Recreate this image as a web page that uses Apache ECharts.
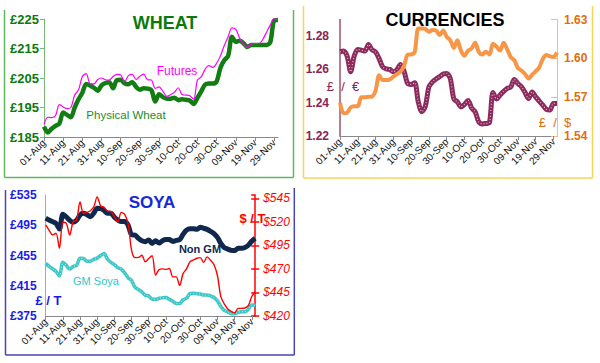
<!DOCTYPE html>
<html>
<head>
<meta charset="utf-8">
<script src="https://cdn.jsdelivr.net/npm/echarts@6/dist/echarts.min.js"></script>
<style>
html,body{margin:0;padding:0;background:#fff;}
#c{width:600px;height:363px;}
</style>
</head>
<body>
<div id="c"></div>
<script>
// ---- Data (sampled every 2 days, 01-Aug .. 01-Dec) ----
const tickLabels = ['01-Aug','11-Aug','21-Aug','31-Aug','10-Sep','20-Sep','30-Sep','10-Oct','20-Oct','30-Oct','09-Nov','19-Nov','29-Nov'];

const wheatPhysical = [188.5,186.5,187.8,188.8,189.5,193.3,192.5,191.7,195,197.8,
  200,203,202.5,201.7,200.7,202.5,203.3,203.6,201.5,204.3,
  204.4,203.2,202.9,203.6,202,201,201.5,201.4,200.9,197,
  199.5,198.5,198,198,198.3,197.5,197.8,197.6,197.4,196.2,
  198.3,200.5,202.8,203.1,203.1,203.8,208.5,211,212.5,219,
  217.3,217.6,216.8,215.5,216.2,216.2,216.2,216.2,216.2,217.2,
  224.5,224.7];
const wheatFutures = [189.3,191.7,191.6,192.2,196,195.2,194.6,195,199.2,201,
  205.5,206.5,203.1,203,204.5,205,204.4,204.3,205.5,206.2,
  206,203.7,205.8,206.2,204.5,205.6,206.3,204.4,204.3,201.5,
  202,200.5,198.8,199.3,200.2,201.7,199.4,199.2,199,197.8,
  204.3,205.4,208,209.2,208.6,210,212.5,216,219,222,
  221.5,218.5,216.5,215.3,216.5,216.7,216.7,218,220.5,223,
  225.2,224.6];

const gbpEur = [1.2706,1.271,1.268,1.2586,1.268,1.272,1.2716,1.271,1.275,1.2718,
  1.2705,1.2665,1.2615,1.2603,1.26,1.2586,1.2598,1.263,1.259,1.2516,
  1.251,1.252,1.2405,1.2346,1.238,1.2495,1.2525,1.2543,1.2556,1.2572,
  1.2576,1.2545,1.2423,1.2405,1.2375,1.239,1.2414,1.2368,1.2345,1.2285,
  1.2272,1.2275,1.228,1.2462,1.2422,1.2446,1.2468,1.2486,1.2494,1.254,
  1.2515,1.2496,1.2462,1.2425,1.2465,1.2435,1.241,1.2385,1.236,1.2356,
  1.2396,1.2396];
const gbpUsd = [1.5657,1.5575,1.558,1.5621,1.563,1.563,1.570,1.570,1.5703,1.5705,
  1.575,1.587,1.5832,1.5832,1.5837,1.5858,1.5878,1.5897,1.594,1.6028,
  1.603,1.605,1.623,1.623,1.6227,1.6205,1.6218,1.6215,1.618,1.6215,
  1.6166,1.614,1.608,1.614,1.606,1.602,1.606,1.6076,1.612,1.605,
  1.603,1.605,1.603,1.6113,1.609,1.606,1.612,1.607,1.601,1.5986,
  1.5925,1.5906,1.5879,1.5845,1.5873,1.59,1.593,1.5995,1.6025,1.6015,
  1.6012,1.6045];

const soyaNonGM = [504.5,502,499.8,497.5,490,509.5,506,501.5,499,501.5,
  508.6,510.8,509,506.4,511,517.4,517.2,514.5,510.8,510.8,
  505.5,502,499.8,499.8,495,482.5,482,477.7,474.5,473.3,
  475.5,471,474.5,471.5,474.5,476,476,473.6,475,476,
  483,488.5,490.5,490.5,489.6,492.3,491,489.5,487,484,
  479,471,465.5,463.5,461.8,461.5,464.5,464.5,465.5,468.5,
  474,477.7];
const soyaGM = [444.6,440.5,437.5,434,428,446,442,437,440.5,442,
  451.3,451,447.5,447.5,450,451.5,455,457.5,450,446,
  443,439,437,432,425.5,422,413,410,407,402.5,
  401.5,397,397,398.4,399,399.3,397,394.5,391.5,391.5,
  396.5,398.4,404.5,405,404.5,404,402.8,402.8,401.5,399.5,
  395,387.5,382.5,380.5,378,378,380,380.7,380.7,384,
  389.5,389.5];
const soyaUsd = [516.7,511,506,507.8,492,519.5,518.5,506,520.2,522,
  541,529.1,530,531.8,536,546.5,537,535.4,531.5,531,
  525.5,520,530,528,518,490,482,482.2,484.5,477.5,
  481,484,463.5,469.2,470,469.5,470.5,461.5,461.5,452.5,
  465,470,477.5,479.5,481.3,482,477,482.8,479.2,474.5,
  463,440.5,432.8,427.5,425,423.2,428.1,428.1,428.5,431,
  440.7,445.8];

// categories: every 2 days from 01-Aug
const months = ['Jan','Feb','Mar','Apr','May','Jun','Jul','Aug','Sep','Oct','Nov','Dec'];
const categories = [];
for (let i = 0; i < wheatPhysical.length; i++) {
  const d = new Date(Date.UTC(2013, 7, 1 + 2 * i));
  categories.push(String(d.getUTCDate()).padStart(2, '0') + '-' + months[d.getUTCMonth()]);
}

const FONT = 'Liberation Sans, Arial, sans-serif';
const chart = echarts.init(document.getElementById('c'), null, {renderer: 'svg'});

function xAxisFor(gi, lineColor) {
  return {
    type: 'category', gridIndex: gi, data: categories, boundaryGap: false,
    axisLine: {show: true, lineStyle: {color: lineColor, width: 1}},
    axisTick: {show: true, interval: 4, length: 4, lineStyle: {color: lineColor}},
    axisLabel: {interval: 4, rotate: 45, margin: 4, fontSize: 10, color: '#111', fontFamily: FONT,
      formatter: v => (tickLabels.indexOf(v) >= 0 ? v : '')},
    splitLine: {show: false}
  };
}

const option = {
  animation: false,
  backgroundColor: '#fff',
  grid: [
    {left: 44, top: 19, width: 234, height: 118},
    {left: 340, top: 19.5, width: 217, height: 116.5},
    {left: 45.7, top: 195, width: 209.5, height: 121}
  ],
  xAxis: [
    xAxisFor(0, '#8a8a8a'),
    xAxisFor(1, '#8a8a8a'),
    xAxisFor(2, '#8a8a8a')
  ],
  yAxis: [
    // 0 wheat
    {type: 'value', gridIndex: 0, min: 185, max: 225, interval: 10,
      axisLine: {show: true, lineStyle: {color: '#7ab87a', width: 1}},
      axisTick: {show: true, length: 4, lineStyle: {color: '#7ab87a'}},
      axisLabel: {formatter: v => '£' + v, color: '#0b7a0b', fontWeight: 'bold', fontSize: 13, margin: 5, fontFamily: FONT},
      splitLine: {show: false}},
    // 1 currencies left (scaled: (v-1.22)*100)
    {type: 'value', gridIndex: 1, min: 0, max: 7, interval: 2, position: 'left',
      axisLine: {show: true, lineStyle: {color: '#a0526e', width: 1.5}},
      axisTick: {show: false},
      axisLabel: {showMaxLabel: false, formatter: v => (1.22 + v / 100).toFixed(2), color: '#8b2252', fontWeight: 'bold', fontSize: 12, margin: 11, fontFamily: FONT},
      splitLine: {show: false}},
    // 2 currencies right (scaled: (v-1.54)*100)
    {type: 'value', gridIndex: 1, min: 0, max: 9, interval: 3, position: 'right',
      axisLine: {show: true, lineStyle: {color: '#f8b88a', width: 1}},
      axisTick: {show: true, inside: true, length: 6, lineStyle: {color: '#f8b88a'}},
      axisLabel: {formatter: v => (1.54 + v / 100).toFixed(2), color: '#e46c0a', fontWeight: 'bold', fontSize: 12, margin: 7, fontFamily: FONT},
      splitLine: {show: false}},
    // 3 soya left (v-375)
    {type: 'value', gridIndex: 2, min: 0, max: 160, interval: 40, position: 'left',
      axisLine: {show: true, lineStyle: {color: '#a0a0ee', width: 1}},
      axisTick: {show: false},
      axisLabel: {formatter: v => '£' + (v + 375), color: '#1a1aee', fontWeight: 'bold', fontSize: 12, margin: 9, fontFamily: FONT},
      splitLine: {show: false}},
    // 4 soya right (v-420)
    {type: 'value', gridIndex: 2, min: 0, max: 128.5, interval: 25, position: 'right',
      axisLine: {show: true, lineStyle: {color: '#ff0000', width: 1.5}},
      axisTick: {show: true, length: 4, lineStyle: {color: '#ff0000', width: 1.5}},
      axisLabel: {showMaxLabel: false, formatter: v => '$' + (v + 420), color: '#ff0000', fontStyle: 'italic', fontSize: 12, margin: 8, fontFamily: FONT},
      splitLine: {show: false}},
    // 5 soya right inner ticks
    {type: 'value', gridIndex: 2, min: 0, max: 128.5, interval: 25, position: 'right',
      axisLine: {show: false},
      axisTick: {show: true, inside: true, length: 4, lineStyle: {color: '#ff0000', width: 1.5}},
      axisLabel: {show: false},
      splitLine: {show: false}}
  ],
  series: [
    {type: 'line', xAxisIndex: 0, yAxisIndex: 0, data: wheatPhysical, symbol: 'none', smooth: 0.3,
      lineStyle: {color: '#127d12', width: 4.5}},
    {type: 'line', xAxisIndex: 0, yAxisIndex: 0, data: wheatFutures, symbol: 'none', smooth: 0.3,
      lineStyle: {color: '#ff00ff', width: 1.2}},

    {type: 'line', xAxisIndex: 1, yAxisIndex: 1, data: gbpEur.map(v => (v - 1.22) * 100), symbol: 'none', smooth: 0.3,
      lineStyle: {color: '#8b2a5c', width: 5}},
    {type: 'line', xAxisIndex: 1, yAxisIndex: 1, data: gbpEur.map(v => (v - 1.22) * 100), symbol: 'none', smooth: 0.3,
      lineStyle: {color: '#e6b3cc', width: 1.2, type: [1, 2]}},
    {type: 'line', xAxisIndex: 1, yAxisIndex: 2, data: gbpUsd.map(v => (v - 1.54) * 100), symbol: 'none', smooth: 0.3,
      lineStyle: {color: '#f79646', width: 4}},

    {type: 'line', xAxisIndex: 2, yAxisIndex: 3, data: soyaNonGM.map(v => v - 375), symbol: 'none', smooth: 0.3,
      lineStyle: {color: '#10284d', width: 5}},
    {type: 'line', xAxisIndex: 2, yAxisIndex: 3, data: soyaGM.map(v => v - 375), symbol: 'none', smooth: 0.3,
      lineStyle: {color: '#3cc6c6', width: 3.5}},
    {type: 'line', xAxisIndex: 2, yAxisIndex: 3, data: soyaGM.map(v => v - 375), symbol: 'none', smooth: 0.3,
      lineStyle: {color: '#b6eeee', width: 1, type: [1, 2]}},
    {type: 'line', xAxisIndex: 2, yAxisIndex: 4, data: soyaUsd.map(v => v - 420), symbol: 'none', smooth: 0.3,
      lineStyle: {color: '#ff0000', width: 1.4}}
  ],
  graphic: [
    // panel borders
    {type: 'line', shape: {x1: 4.5, y1: 10, x2: 4.5, y2: 177.5}, style: {stroke: '#5cb85c', lineWidth: 1.5}},
    {type: 'line', shape: {x1: 4.5, y1: 177.5, x2: 293.5, y2: 177.5}, style: {stroke: '#5cb85c', lineWidth: 1.5}},
    {type: 'line', shape: {x1: 293.5, y1: 10, x2: 293.5, y2: 177.5}, style: {stroke: '#5cb85c', lineWidth: 1.5}},

    {type: 'line', shape: {x1: 303.5, y1: 6, x2: 303.5, y2: 178}, style: {stroke: '#f7d358', lineWidth: 1.5}},
    {type: 'line', shape: {x1: 303.5, y1: 178, x2: 592.5, y2: 178}, style: {stroke: '#f7d358', lineWidth: 1.5}},
    {type: 'line', shape: {x1: 592.5, y1: 6, x2: 592.5, y2: 178}, style: {stroke: '#f7d358', lineWidth: 1.5}},

    {type: 'line', shape: {x1: 5.5, y1: 190, x2: 5.5, y2: 355}, style: {stroke: '#4646b4', lineWidth: 1.5}},
    {type: 'line', shape: {x1: 5.5, y1: 355, x2: 294.3, y2: 355}, style: {stroke: '#4646b4', lineWidth: 1.5}},
    {type: 'line', shape: {x1: 294.3, y1: 188, x2: 294.3, y2: 355}, style: {stroke: '#4646b4', lineWidth: 1.5}},

    // texts
    {type: 'text', style: {text: 'WHEAT', x: 165, y: 22.5, fill: '#0b7a0b', font: 'bold 18px ' + FONT, align: 'center', verticalAlign: 'middle'}},
    {type: 'text', style: {text: 'Futures', x: 177, y: 71, fill: '#ff00ff', font: '12px ' + FONT, align: 'center', verticalAlign: 'middle'}},
    {type: 'text', style: {text: 'Physical Wheat', x: 126, y: 115, fill: '#1e8c1e', font: '11.5px ' + FONT, align: 'center', verticalAlign: 'middle'}},

    {type: 'text', style: {text: 'CURRENCIES', x: 445, y: 19.5, fill: '#000', font: 'bold 18px ' + FONT, align: 'center', verticalAlign: 'middle'}},
    {type: 'text', style: {text: '£  /  €', x: 343, y: 86, fill: '#8b2252', font: '13px ' + FONT, align: 'center', verticalAlign: 'middle'}},
    {type: 'text', style: {text: '£  /  $', x: 555, y: 122, fill: '#e46c0a', font: '13px ' + FONT, align: 'center', verticalAlign: 'middle'}},

    {type: 'text', style: {text: 'SOYA', x: 152, y: 202.5, fill: '#1428d8', font: 'bold 17px ' + FONT, align: 'center', verticalAlign: 'middle'}},
    {type: 'text', style: {text: '£ / T', x: 48.5, y: 300, fill: '#1a1aee', font: 'bold 13px ' + FONT, align: 'center', verticalAlign: 'middle'}},
    {type: 'text', style: {text: '$ / T', x: 252.5, y: 218, fill: '#ff0000', font: 'bold 13px ' + FONT, align: 'center', verticalAlign: 'middle'}},
    {type: 'text', style: {text: 'GM Soya', x: 96, y: 280.5, fill: '#33c4c4', font: '11px ' + FONT, align: 'center', verticalAlign: 'middle'}},
    {type: 'text', style: {text: 'Non GM', x: 200, y: 248.5, fill: '#10284d', font: 'bold 11px ' + FONT, align: 'center', verticalAlign: 'middle'}}
  ]
};
chart.setOption(option);
</script>
</body>
</html>
